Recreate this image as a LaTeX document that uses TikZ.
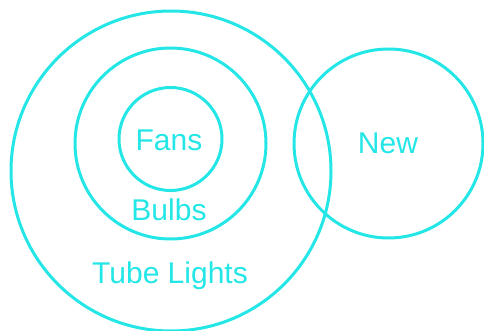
\documentclass[tikz,border=0pt]{standalone}
\usepackage{fontspec}
\setmainfont{Liberation Sans}
\definecolor{venncyan}{RGB}{36,230,230}
\begin{document}
\begin{tikzpicture}[x=1pt,y=-1pt,
  ring/.style={draw=venncyan,line width=3pt},
  setlabel/.style={text=venncyan,font=\fontsize{30}{32}\selectfont,inner sep=0pt}]
\useasboundingbox (0,0) rectangle (484,331);
% Sets
\path[ring] (171,171) circle (160);
\path[ring] (170.5,143.5) circle (95.5);
\path[ring] (170.5,139) circle (51.5);
\path[ring] (388.5,143.5) circle (94.5);
% Labels
\node[setlabel] (fans) at (169,140) {Fans};
\node[setlabel] (bulbs) at (169,210) {Bulbs};
\node[setlabel] (tube) at (170,276) {Tube Lights};
\node[setlabel] (new) at (388,143) {New};
\end{tikzpicture}
\end{document}
